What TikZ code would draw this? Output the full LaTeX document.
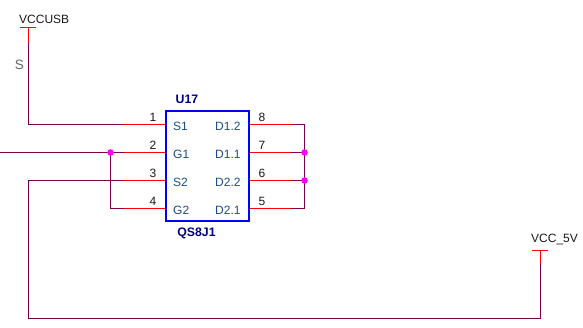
\documentclass[tikz,border=0pt]{standalone}
\usepackage{fontspec}
\setmainfont{Liberation Sans}
\definecolor{wirec}{RGB}{128,0,72}
\definecolor{pinc}{RGB}{255,0,0}
\definecolor{boxc}{RGB}{0,0,255}
\definecolor{namec}{RGB}{0,0,128}
\definecolor{pintxt}{RGB}{30,75,135}
\definecolor{dotc}{RGB}{255,0,255}
\tikzset{
 wire/.style={draw=wirec,line width=1.1pt},
 pin/.style={draw=pinc,line width=1.1pt},
 lbl/.style={inner sep=0pt,font=\fontsize{12}{14}\selectfont,text=black!90},
 pinname/.style={inner sep=0pt,font=\fontsize{12}{14}\selectfont,text=pintxt},
 refname/.style={inner sep=0pt,font=\bfseries\fontsize{12.3}{14}\selectfont,text=namec},
 dot/.style={circle,fill=dotc,inner sep=0pt,minimum size=6.5pt},
 chip/.style={draw=boxc,line width=1.6pt,minimum width=83pt,minimum height=110pt,inner sep=0pt,outer sep=0pt}
}
\begin{document}
\begin{tikzpicture}[x=1pt,y=-1pt]
\useasboundingbox (0,0) rectangle (583,328);
\fill[white] (0,0) rectangle (583,328);
\coordinate (p1) at (166,124.5);\coordinate (p2) at (166,152.5);\coordinate (p3) at (166,180.5);\coordinate (p4) at (166,208.5);
\coordinate (p8) at (249,124.5);\coordinate (p7) at (249,152.5);\coordinate (p6) at (249,180.5);\coordinate (p5) at (249,208.5);
\coordinate (q1) at (124,124.5);\coordinate (q2) at (124,152.5);\coordinate (q3) at (124,180.5);\coordinate (q4) at (124,208.5);
\coordinate (q8) at (291,124.5);\coordinate (q7) at (291,152.5);\coordinate (q6) at (291,180.5);\coordinate (q5) at (291,208.5);
\coordinate (usbtop) at (28.5,27.5);\coordinate (usbmid) at (28.5,43);\coordinate (usbbot) at (28.5,124.5);
\coordinate (vcctop) at (540.5,250.5);\coordinate (vccmid) at (540.5,264);\coordinate (vccbot) at (540.5,318.5);
\coordinate (botleft) at (28.5,318.5);\coordinate (s2left) at (28.5,180.5);
\coordinate (g1left) at (0,152.5);
\coordinate (ju) at (110.5,152.5);\coordinate (jg) at (110.5,208.5);
\coordinate (bus1) at (304.5,124.5);\coordinate (bus2) at (304.5,152.5);\coordinate (bus3) at (304.5,180.5);\coordinate (bus4) at (304.5,208.5);
\coordinate (usbl) at (20,27.5);\coordinate (usbr) at (36,27.5);
\coordinate (vccl) at (532,250.5);\coordinate (vccr) at (548,250.5);
% wires
\draw[wire] (usbmid) -- (usbbot) -- (q1);
\draw[wire] (g1left) -- (q2);
\draw[wire] (ju) -- (jg) -- (q4);
\draw[wire] (q3) -- (s2left) -- (botleft) -- (vccbot) -- (vccmid);
\draw[wire] (q8) -- (bus1) -- (bus4) -- (q5);
\draw[wire] (q7) -- (bus2);
\draw[wire] (q6) -- (bus3);
% pins
\foreach \a/\b in {p1/q1,p2/q2,p3/q3,p4/q4,p8/q8,p7/q7,p6/q6,p5/q5,usbtop/usbmid,vcctop/vccmid}
  \draw[pin] (\a) -- (\b);
\draw[pin] (usbl) -- (usbr);
\draw[pin] (vccl) -- (vccr);
\node[chip] (u) at (207.5,166) {};
% junctions
\node[dot] (d1) at (ju) {};
\node[dot] (d2) at (bus2) {};
\node[dot] (d3) at (bus3) {};
% labels
\node[lbl,anchor=west] (t1) at (19,19) {VCCUSB};
\node[lbl,anchor=west] (t2) at (531,240) {VCC\_5V};
\node[lbl,text=black!60,font=\fontsize{13.5}{15}\selectfont] (s) at (19.5,65) {S};
\node[refname] (r1) at (187,99.5) {U17};
\node[refname] (r2) at (196.5,233) {QS8J1};
\foreach \n/\x/\y/\t in {a/153/117/1,b/153/145.5/2,c/153/173/3,d/153/201/4,e/262/117/8,f/262/145.5/7,g/262/173/6,h/262/201/5}
  \node[lbl] (n\n) at (\x,\y) {\t};
\foreach \n/\y/\t in {a/126/S1,b/154.5/G1,c/182/S2,d/210/G2}
  \node[pinname,anchor=west] (l\n) at (173,\y) {\t};
\foreach \n/\y/\t in {a/126/D1.2,b/154.5/D1.1,c/182/D2.2,d/210/D2.1}
  \node[pinname,anchor=west] (m\n) at (215,\y) {\t};
\end{tikzpicture}
\end{document}
